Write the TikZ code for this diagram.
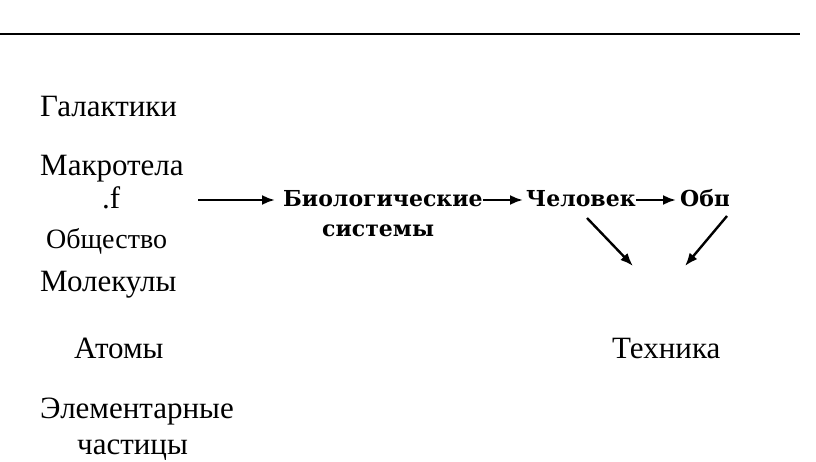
\documentclass[tikz,border=0pt]{standalone}
\usepackage{fontspec}
\setmainfont{Liberation Serif}
\newfontfamily\bio{DejaVu Serif}
\usetikzlibrary{arrows.meta}
\begin{document}
\begin{tikzpicture}[x=1pt,y=-1pt,
  lvl/.style={font=\fontsize{31}{33}\selectfont, inner sep=0pt, anchor=base west},
  mid/.style={font=\bio\bfseries\fontsize{22}{24}\selectfont, inner sep=0pt, anchor=base west},
  arr/.style={line width=2.4pt, -{Latex[length=13pt,width=10pt]}}]
\useasboundingbox (0,0) rectangle (816,461);
\draw[line width=1.4pt] (0,34) -- (800,34);
\draw[line width=2.6pt] (262,34) -- (486,34);
\node[lvl] (gal) at (40,116) {Галактики};
\node[lvl] (mak) at (40,175) {Макротела};
\node[lvl] (f) at (102,208) {.f};
\node[lvl, font=\fontsize{28}{30}\selectfont] (obs) at (46,248) {Общество};
\node[lvl] (mol) at (40,291) {Молекулы};
\node[lvl] (atm) at (74,358) {Атомы};
\node[lvl] (ele) at (40,418) {Элементарные};
\node[lvl] (cha) at (77,454) {частицы};
\coordinate (a1s) at (198,200);
\node[mid] (bio) at (283,206) {Биологические};
\node[mid] (sys) at (322,236) {системы};
\node[mid] (hum) at (526,206) {Человек};
\begin{scope}
\clip (670,170) rectangle (728,230);
\node[mid] (soc) at (680,206) {Общество};
\end{scope}
\node[lvl] (teh) at (612,358) {Техника};
\coordinate (t1) at (633,266);
\coordinate (t2) at (685,266);
\coordinate (s2) at (727,216);
\coordinate (s1) at (587,218);
\draw[arr, shorten >=8pt] (a1s) -- (bio.west |- a1s);
\draw[arr, shorten >=3pt] (bio.east |- a1s) -- (hum.west |- a1s);
\draw[arr, shorten >=4pt] (hum.east |- a1s) -- (soc.west |- a1s);
\draw[arr] (s1) -- (t1);
\draw[arr] (s2) -- (t2);
\end{tikzpicture}
\end{document}
